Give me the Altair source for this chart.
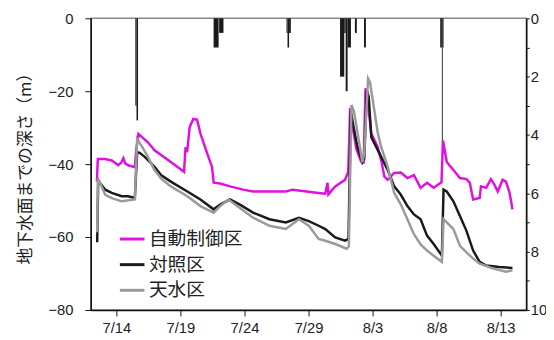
import pandas as pd
import altair as alt

# ---- data (t = days after 7/12 00:00) ----
series_names = ["自動制御区", "対照区", "天水区"]
series_colors = ["#e010e0", "#1a1a1a", "#9a9a9a"]

mag_t = [0.48, 0.55, 1.1, 1.64, 2.15, 2.4, 2.55, 2.69, 2.92, 3.44, 3.55, 3.72, 4.46, 4.98, 6.25, 7.28, 7.4, 7.52, 7.72, 8.0,
         8.3, 8.56, 9.08, 9.46, 9.6, 10.1, 10.87, 11.9, 12.67, 15.23, 15.75, 17.79, 18.31, 18.48, 18.55, 19.08, 19.85, 20.1,
         20.25, 20.45, 20.75, 21.1, 21.3, 21.45, 21.6, 21.9, 22.4, 22.67, 22.92, 23.18, 23.69, 24.21, 24.72, 25.23, 25.75,
         26.25, 26.77, 27.38, 27.5, 27.79, 28.31, 28.82, 29.33, 29.59, 29.85, 30.36, 30.46, 30.87, 31.23, 31.52, 31.77,
         32.15, 32.41, 32.67, 32.79, 32.92]
mag_v = [-44.8, -38.6, -38.6, -39.0, -40.3, -39.5, -38.4, -39.8, -40.3, -40.8, -36.0, -31.7, -34.0, -36.2, -39.4, -42.1,
         -35.3, -36.7, -29.9, -27.6, -27.8, -31.6, -37.0, -40.7, -45.1, -45.3, -46.1, -47.0, -47.5, -47.5, -47.0, -47.9,
         -48.1, -45.1, -48.3, -46.1, -44.3, -42.1, -24.6, -30.0, -36.0, -39.3, -39.5, -19.2, -22.0, -31.6, -35.3, -38.9,
         -43.4, -44.3, -42.4, -42.3, -43.8, -43.0, -46.5, -45.1, -46.5, -45.0, -33.5, -39.4, -41.6, -43.8, -44.1, -45.1,
         -49.7, -49.3, -46.1, -46.5, -44.1, -45.7, -47.5, -44.3, -44.8, -47.5, -49.7, -52.4]

blk_t = [0.5, 0.58, 1.13, 1.64, 2.41, 2.92, 3.44, 3.62, 3.82, 4.21, 4.98, 5.48, 6.25, 7.54, 8.56, 9.59, 10.1, 10.87, 11.64,
         12.67, 13.95, 15.23, 16.25, 17.02, 17.79, 18.31, 19.08, 19.85, 20.12, 20.3, 20.5, 20.8, 21.2, 21.35, 21.55, 21.7,
         21.9, 22.67, 23.18, 23.69, 24.21, 24.72, 25.23, 25.75, 26.25, 26.77, 27.41, 27.54, 27.79, 28.31, 28.82, 29.33,
         29.85, 30.36, 30.87, 31.9, 32.92]
blk_v = [-61.4, -44.5, -47.0, -47.9, -48.8, -48.8, -49.3, -36.7, -36.9, -38.0, -40.7, -43.0, -44.8, -47.5, -49.7, -52.4,
         -51.1, -49.7, -51.1, -53.3, -55.1, -56.0, -54.7, -55.6, -56.9, -57.8, -60.1, -61.0, -60.5, -25.5, -29.5, -35.0,
         -39.5, -38.5, -19.8, -21.5, -32.6, -38.0, -41.6, -46.1, -48.4, -51.5, -53.8, -55.1, -59.6, -61.9, -65.1, -47.0,
         -47.5, -50.2, -54.2, -58.3, -63.7, -66.8, -67.8, -68.2, -68.5]

gry_t = [0.5, 0.56, 1.13, 1.64, 2.41, 3.44, 3.62, 3.95, 4.46, 4.98, 5.48, 6.25, 7.54, 8.56, 9.59, 10.1, 10.75, 11.64, 12.67,
         13.95, 15.23, 16.25, 17.02, 17.79, 18.31, 19.08, 19.98, 20.15, 20.35, 20.55, 20.9, 21.2, 21.35, 21.65, 21.8, 22.4,
         22.67, 23.18, 23.69, 24.21, 24.72, 25.23, 25.75, 26.25, 26.77, 27.41, 27.54, 27.79, 28.31, 28.82, 29.33, 29.85,
         30.36, 31.38, 32.41, 32.92]
gry_v = [-58.7, -43.8, -48.4, -49.3, -50.2, -49.7, -33.1, -34.9, -38.0, -41.6, -43.9, -46.1, -48.8, -51.5, -53.3, -51.5,
         -49.7, -52.0, -54.7, -56.9, -57.8, -55.1, -56.9, -60.5, -61.0, -61.9, -63.2, -62.5, -23.8, -25.5, -33.0, -39.5,
         -37.0, -16.5, -17.5, -31.3, -35.3, -40.7, -47.9, -51.1, -55.1, -59.2, -62.0, -63.7, -65.1, -66.8, -55.1, -56.0,
         -57.8, -62.4, -64.2, -65.9, -67.3, -68.6, -69.5, -69.1]

rain_start = [3.48, 3.57, 9.59, 10.02, 15.28, 15.36, 15.48, 19.46, 19.79, 19.9, 20.05, 20.62, 21.33, 27.28, 27.41, 27.48]
rain_end = [3.57, 3.69, 9.98, 10.36, 15.36, 15.48, 15.62, 19.79, 19.9, 20.05, 20.31, 20.77, 21.48, 27.41, 27.48, 27.54]
rain_amt = [3.0, 3.5, 1.0, 0.5, 0.5, 1.0, 0.5, 2.0, 0.5, 2.5, 1.0, 0.5, 1.0, 1.0, 5.0, 1.0]

tick_days = [(7, 14), (7, 19), (7, 24), (7, 29), (8, 3), (8, 8), (8, 13)]
depth_ticks = [0, -20, -40, -60, -80]

# ---- build tables ----
base = pd.Timestamp("2012-07-12")


def ts(d):
    return (base + pd.to_timedelta(d, unit="D")).strftime("%Y-%m-%dT%H:%M:%S")


rows = []
for name, tt, vv in zip(series_names, [mag_t, blk_t, gry_t], [mag_v, blk_v, gry_v]):
    for i, (a, b) in enumerate(zip(tt, vv)):
        rows.append({"t": ts(a), "depth": b, "series": name, "order": i})
lines_df = pd.DataFrame(rows)

rain_df = pd.DataFrame({
    "start": [ts(a) for a in rain_start],
    "end": [ts(a) for a in rain_end],
    "amt": rain_amt,
})

x_scale = alt.Scale(domain=[alt.DateTime(year=2012, month=7, date=12),
                            alt.DateTime(year=2012, month=8, date=15)])
x_axis = alt.Axis(
    values=[alt.DateTime(year=2012, month=m, date=d) for m, d in tick_days],
    format="%-m/%-d", title=None, grid=False, tickSize=6, labelPadding=5,
)

bars = alt.Chart(rain_df).mark_bar(color="#1a1a1a").encode(
    x=alt.X("start:T", scale=x_scale, axis=x_axis),
    x2="end:T",
    y=alt.Y("amt:Q", scale=alt.Scale(domain=[0, 10], reverse=True, nice=False),
            axis=alt.Axis(orient="right", values=list(range(11)), title=None, grid=False,
                          labelExpr="datum.value % 2 == 0 ? datum.label : ''",
                          tickSize=3, labelPadding=1)),
    y2=alt.datum(0),
)

lines = alt.Chart(lines_df).mark_line(strokeWidth=2.5).encode(
    x=alt.X("t:T", scale=x_scale, axis=x_axis),
    y=alt.Y("depth:Q", scale=alt.Scale(domain=[-80, 0], nice=False),
            axis=alt.Axis(orient="left", values=depth_ticks, title="地下水面までの深さ（m）",
                          grid=False, tickSize=6, labelPadding=12, titlePadding=14)),
    color=alt.Color("series:N", scale=alt.Scale(domain=series_names, range=series_colors),
                    legend=alt.Legend(orient="none", legendX=28, legendY=210, title=None,
                                      symbolType="stroke", symbolSize=625, symbolStrokeWidth=3,
                                      labelFontSize=19, labelFont="Noto Sans CJK JP",
                                      labelColor="#222", rowPadding=2, padding=0, labelOffset=3)),
    order="order:Q",
)

chart = alt.layer(bars, lines).resolve_scale(y="independent").properties(
    width=442, height=296,
    autosize=alt.AutoSizeParams(type="none"),
    padding={"left": 84, "top": 8, "right": 20, "bottom": 28},
).configure_view(stroke="#888888", strokeWidth=1.5).configure_axis(
    domainColor="#111", tickColor="#111", labelColor="#222", labelFontSize=15,
    labelFont="Liberation Sans", titleFont="Noto Sans CJK JP", titleFontSize=17,
    titleFontWeight="normal", titleColor="#222", domainWidth=1.5,
)

chart.save("out.html", embed_options={"renderer": "svg", "actions": False})
